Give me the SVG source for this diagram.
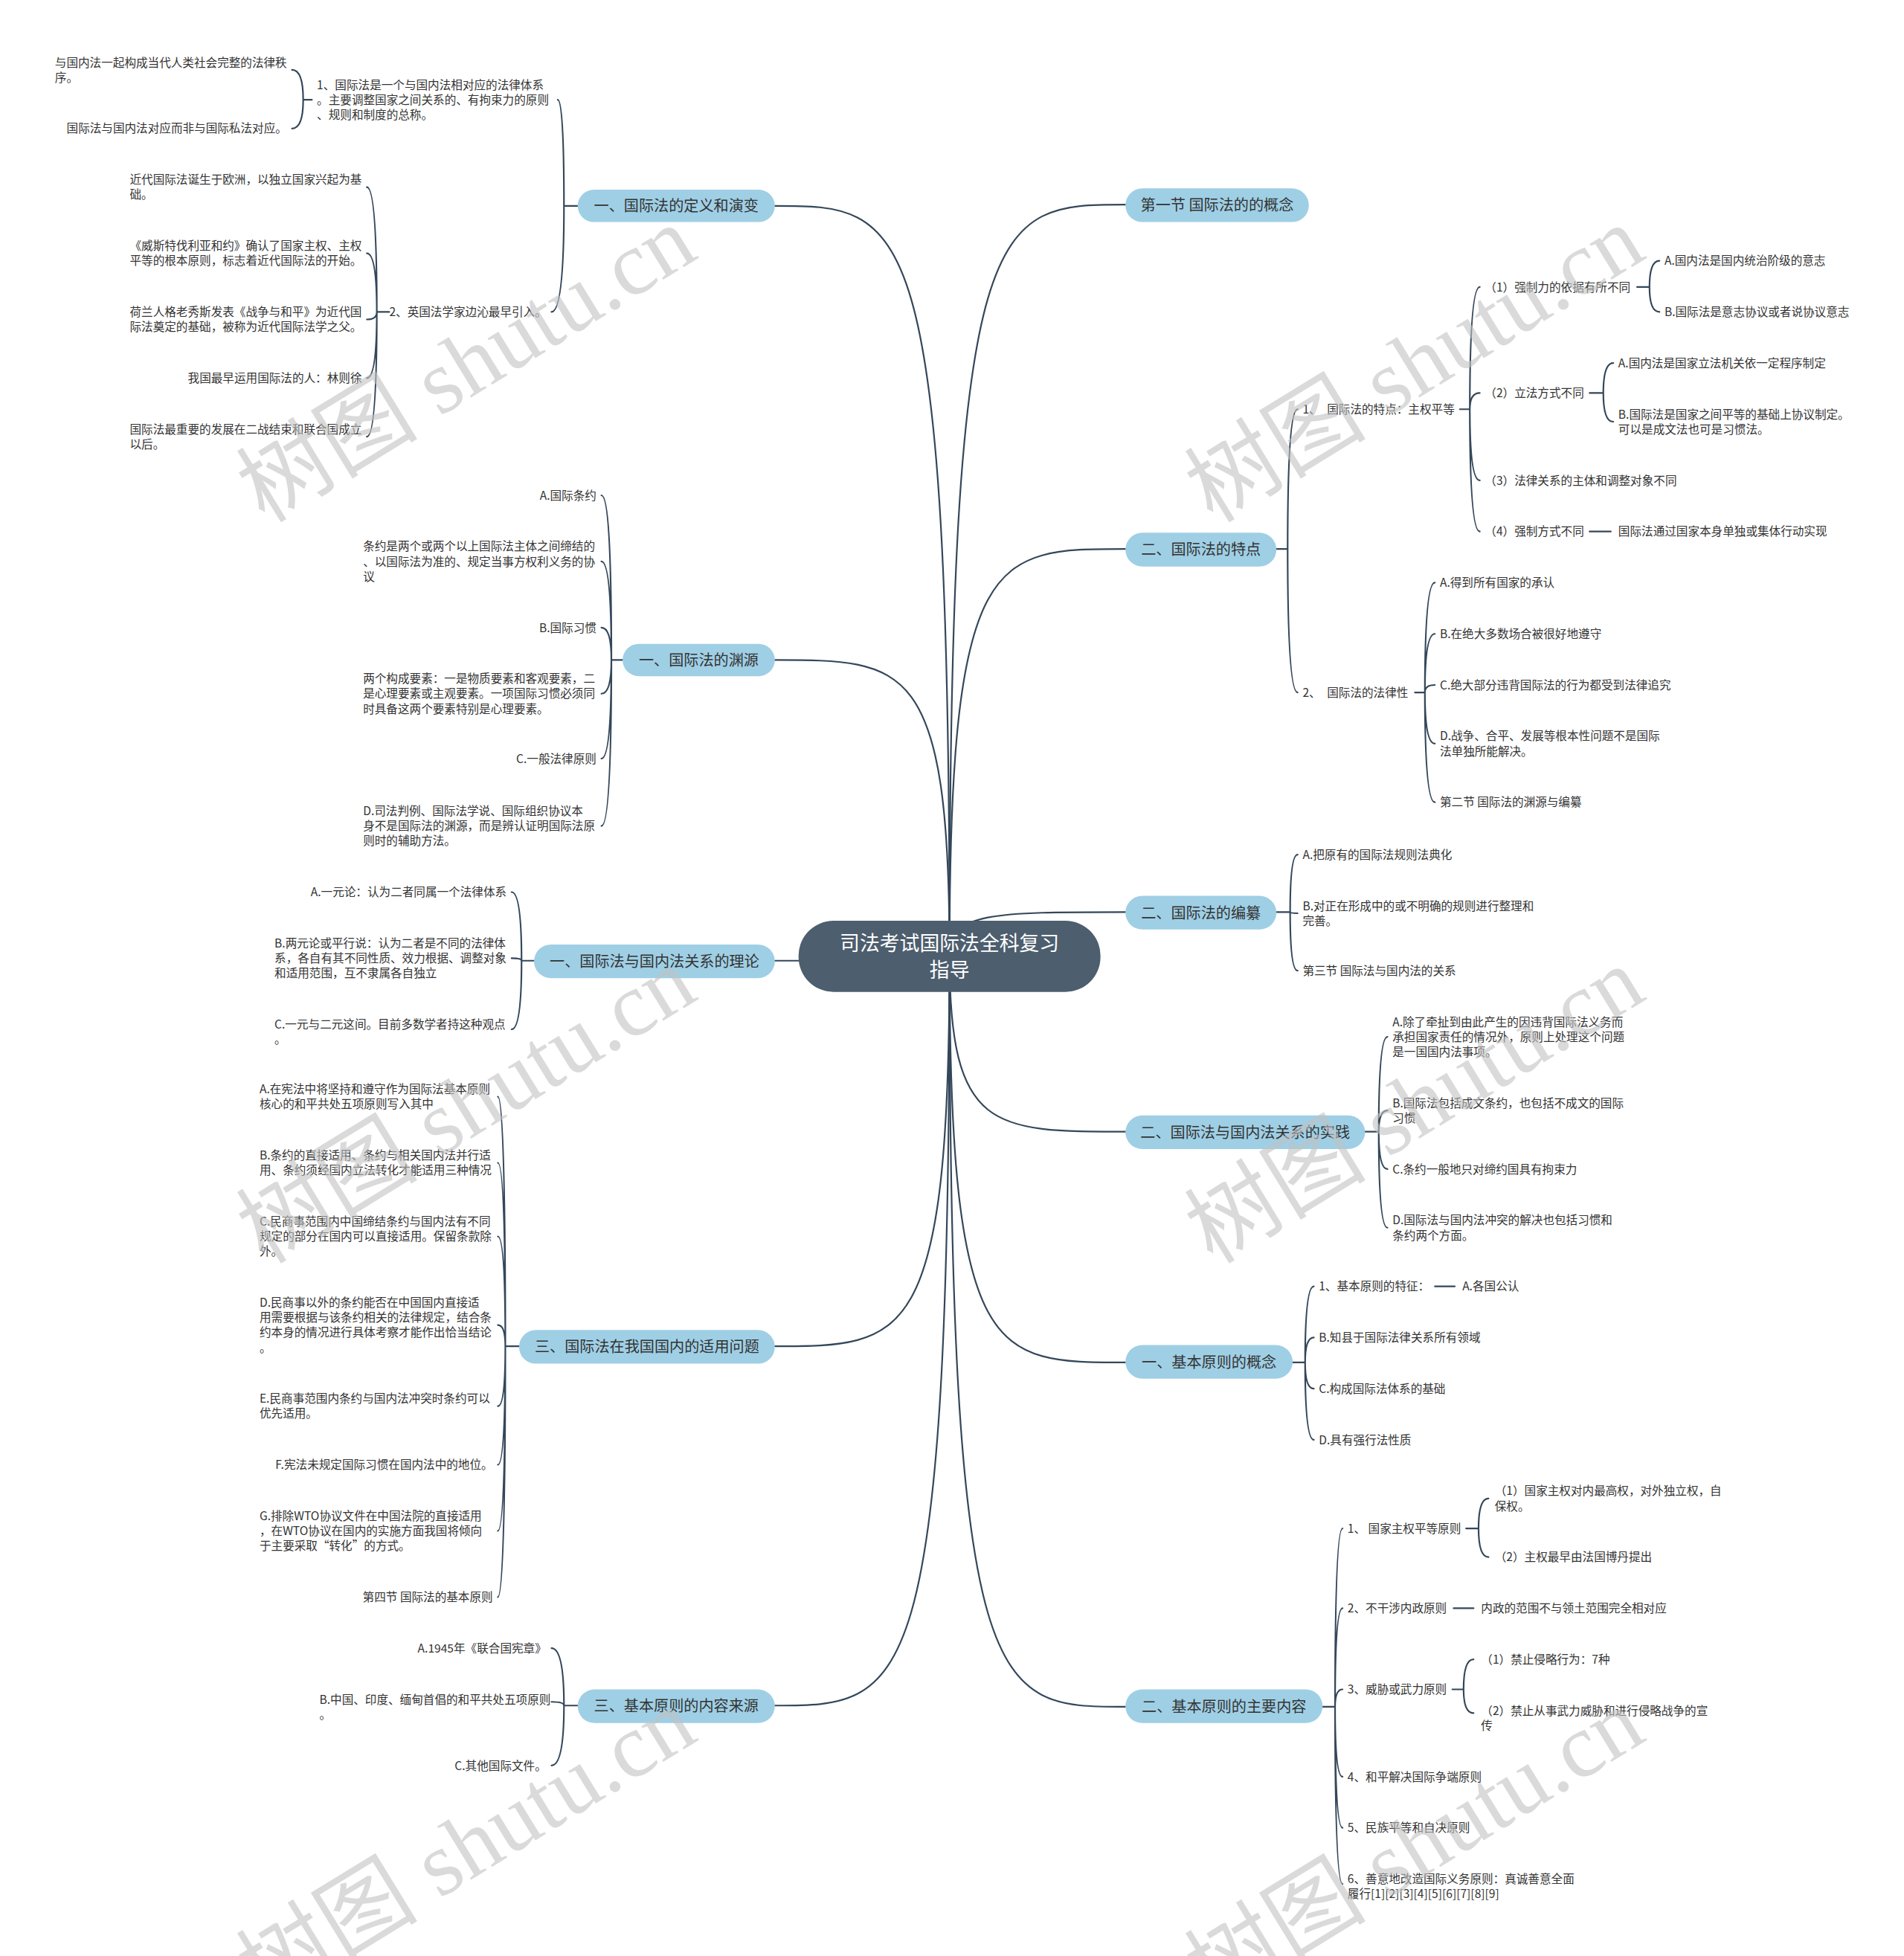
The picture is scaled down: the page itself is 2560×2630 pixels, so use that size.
<svg xmlns="http://www.w3.org/2000/svg" width="2560" height="2630" viewBox="0 0 2560 2630">
<style>
.t{font-family:"Noto Sans CJK SC","Noto Sans",sans-serif;font-size:9.3px;fill:#333}
.e{text-anchor:end}
.b{font-family:"Noto Sans CJK SC","Noto Sans",sans-serif;font-size:12px;fill:#333;text-anchor:middle}
.r{font-family:"Noto Sans CJK SC","Noto Sans",sans-serif;font-size:16px;fill:#fff;text-anchor:middle}
.pill{fill:#9fcfe5}
.ln{fill:none;stroke:#34475a;stroke-width:1.3;stroke-linecap:round}
.wm{font-size:73px;fill:#c2c2c2;fill-opacity:0.6}
</style>
<rect width="2560" height="2630" fill="#fff"/>
<g transform="scale(1.6776)">
<g id="connectors" class="ln">
<path d="M761 766 C761 165 726 165 621 165"/>
<path d="M761 766 C761 529 726 529 621 529"/>
<path d="M761 770 L621 770"/>
<path d="M761 766 C761 1079 726 1079 621 1079"/>
<path d="M761 766 C761 1367 726 1367 621 1367"/>
<path d="M761 766 C761 164 796 164 902 164"/>
<path d="M761 766 C761 440 796 440 902 440"/>
<path d="M761 766 C761 731 796 731 902 731"/>
<path d="M761 766 C761 907 796 907 902 907"/>
<path d="M761 766 C761 1092 796 1092 902 1092"/>
<path d="M761 766 C761 1368 796 1368 902 1368"/>
<path d="M463 165 L452 165 Q452 80 447 80 M452 165 Q452 250 442 250"/>
<path d="M250 80 L243 80 Q243 56 234 56 M243 80 Q243 103 234 103"/>
<path d="M312 250 L302 250 Q302 150 294 150 M302 250 Q302 203 294 203 M302 250 Q302 256 294 256 M302 250 Q302 303 294 303 M302 250 Q302 350 294 350"/>
<path d="M499 529 L490 529 Q490 397 482 397 M490 529 Q490 450 482 450 M490 529 Q490 503 482 503 M490 529 Q490 556 482 556 M490 529 Q490 608 482 608 M490 529 Q490 662 482 662"/>
<path d="M428 770 L418 770 Q418 715 410 715 M418 770 Q418 768 410 768 M418 770 Q418 825 410 825"/>
<path d="M416 1079 L405 1079 Q405 879 399 879 M405 1079 Q405 932 399 932 M405 1079 Q405 991 399 991 M405 1079 Q405 1062 399 1062 M405 1079 Q405 1127 399 1127 M405 1079 Q405 1174 399 1174 M405 1079 Q405 1227 399 1227 M405 1079 Q405 1280 399 1280"/>
<path d="M463 1367 L452 1367 Q452 1321 442 1321 M452 1367 Q452 1364 442 1364 M452 1367 Q452 1415 442 1415"/>
<path d="M1023 440 L1032 440 Q1032 328 1040 328 M1032 440 Q1032 555 1040 555"/>
<path d="M1170 328 L1178 328 Q1178 230 1186 230 M1178 328 Q1178 315 1186 315 M1178 328 Q1178 385 1186 385 M1178 328 Q1178 426 1186 426"/>
<path d="M1312 230 L1322 230 Q1322 209 1330 209 M1322 230 Q1322 250 1330 250"/>
<path d="M1274 315 L1285 315 Q1285 291 1293 291 M1285 315 Q1285 338 1293 338"/>
<path d="M1274 426 L1291 426"/>
<path d="M1134 555 L1142 555 Q1142 467 1150 467 M1142 555 Q1142 508 1150 508 M1142 555 Q1142 549 1150 549 M1142 555 Q1142 596 1150 596 M1142 555 Q1142 643 1150 643"/>
<path d="M1023 731 L1034 731 Q1034 685 1040 685 M1034 731 Q1034 732 1040 732 M1034 731 Q1034 778 1040 778"/>
<path d="M1094 907 L1105 907 Q1105 831 1112 831 M1105 907 Q1105 890 1112 890 M1105 907 Q1105 937 1112 937 M1105 907 Q1105 984 1112 984"/>
<path d="M1036 1092 L1046 1092 Q1046 1031 1053 1031 M1046 1092 Q1046 1072 1053 1072 M1046 1092 Q1046 1113 1053 1113 M1046 1092 Q1046 1154 1053 1154"/>
<path d="M1150 1031 L1166 1031"/>
<path d="M1060 1368 L1070 1368 Q1070 1225 1076 1225 M1070 1368 Q1070 1289 1076 1289 M1070 1368 Q1070 1354 1076 1354 M1070 1368 Q1070 1424 1076 1424 M1070 1368 Q1070 1465 1076 1465 M1070 1368 Q1070 1510 1076 1510"/>
<path d="M1175 1225 L1185 1225 Q1185 1201 1193 1201 M1185 1225 Q1185 1248 1193 1248"/>
<path d="M1165 1289 L1181 1289"/>
<path d="M1164 1354 L1173 1354 Q1173 1330 1181 1330 M1173 1354 Q1173 1373 1181 1373"/>
</g>

<g id="root">
<rect x="640" y="738" width="242" height="57" rx="28" fill="#4d5e6e"/>
<text class="r" x="761" y="762">司法考试国际法全科复习</text>
<text class="r" x="761" y="783">指导</text>
</g>

<g id="n-l1">
<rect class="pill" x="463" y="152" width="158" height="26" rx="13"/>
<text class="b" x="542" y="169.4">一、国际法的定义和演变</text>
</g>
<g id="n-l1-1"><text class="t" x="254" y="71.4"><tspan x="254">1、国际法是一个与国内法相对应的法律体系</tspan><tspan x="254" dy="12">。主要调整国家之间关系的、有拘束力的原则</tspan><tspan x="254" dy="12">、规则和制度的总称。</tspan></text></g>
<g id="n-l1-1-1"><text class="t" x="44" y="53.4"><tspan x="44">与国内法一起构成当代人类社会完整的法律秩</tspan><tspan x="44" dy="12">序。</tspan></text></g>
<g id="n-l1-1-2"><text class="t e" x="230" y="106.4">国际法与国内法对应而非与国际私法对应。</text></g>
<g id="n-l1-2"><text class="t e" x="438" y="253.4">2、英国法学家边沁最早引入。</text></g>
<g id="n-l1-2-1"><text class="t" x="104" y="147.4"><tspan x="104">近代国际法诞生于欧洲，以独立国家兴起为基</tspan><tspan x="104" dy="12">础。</tspan></text></g>
<g id="n-l1-2-2"><text class="t" x="104" y="200.4"><tspan x="104">《威斯特伐利亚和约》确认了国家主权、主权</tspan><tspan x="104" dy="12">平等的根本原则，标志着近代国际法的开始。</tspan></text></g>
<g id="n-l1-2-3"><text class="t" x="104" y="253.4"><tspan x="104">荷兰人格老秀斯发表《战争与和平》为近代国</tspan><tspan x="104" dy="12">际法奠定的基础，被称为近代国际法学之父。</tspan></text></g>
<g id="n-l1-2-4"><text class="t e" x="290" y="306.4">我国最早运用国际法的人：林则徐</text></g>
<g id="n-l1-2-5"><text class="t" x="104" y="347.4"><tspan x="104">国际法最重要的发展在二战结束和联合国成立</tspan><tspan x="104" dy="12">以后。</tspan></text></g>

<g id="n-l2">
<rect class="pill" x="499" y="516" width="122" height="26" rx="13"/>
<text class="b" x="560" y="533.4">一、国际法的渊源</text>
</g>
<g id="n-l2-1"><text class="t e" x="478" y="400.4">A.国际条约</text></g>
<g id="n-l2-2"><text class="t" x="291" y="441.4"><tspan x="291">条约是两个或两个以上国际法主体之间缔结的</tspan><tspan x="291" dy="12">、以国际法为准的、规定当事方权利义务的协</tspan><tspan x="291" dy="12">议</tspan></text></g>
<g id="n-l2-3"><text class="t e" x="478" y="506.4">B.国际习惯</text></g>
<g id="n-l2-4"><text class="t" x="291" y="547.4"><tspan x="291">两个构成要素：一是物质要素和客观要素，二</tspan><tspan x="291" dy="12">是心理要素或主观要素。一项国际习惯必须同</tspan><tspan x="291" dy="12">时具备这两个要素特别是心理要素。</tspan></text></g>
<g id="n-l2-5"><text class="t e" x="478" y="611.4">C.一般法律原则</text></g>
<g id="n-l2-6"><text class="t" x="291" y="653.4"><tspan x="291">D.司法判例、国际法学说、国际组织协议本</tspan><tspan x="291" dy="12">身不是国际法的渊源，而是辨认证明国际法原</tspan><tspan x="291" dy="12">则时的辅助方法。</tspan></text></g>

<g id="n-l3">
<rect class="pill" x="428" y="757" width="193" height="27" rx="13.5"/>
<text class="b" x="524.5" y="774.9">一、国际法与国内法关系的理论</text>
</g>
<g id="n-l3-1"><text class="t e" x="406" y="718.4">A.一元论：认为二者同属一个法律体系</text></g>
<g id="n-l3-2"><text class="t" x="220" y="759.4"><tspan x="220">B.两元论或平行说：认为二者是不同的法律体</tspan><tspan x="220" dy="12">系，各自有其不同性质、效力根据、调整对象</tspan><tspan x="220" dy="12">和适用范围，互不隶属各自独立</tspan></text></g>
<g id="n-l3-3"><text class="t" x="220" y="824.4"><tspan x="220">C.一元与二元这间。目前多数学者持这种观点</tspan><tspan x="220" dy="12">。</tspan></text></g>

<g id="n-l4">
<rect class="pill" x="416" y="1066" width="205" height="27" rx="13.5"/>
<text class="b" x="518.5" y="1083.9">三、国际法在我国国内的适用问题</text>
</g>
<g id="n-l4-1"><text class="t" x="208" y="876.4"><tspan x="208">A.在宪法中将坚持和遵守作为国际法基本原则</tspan><tspan x="208" dy="12">核心的和平共处五项原则写入其中</tspan></text></g>
<g id="n-l4-2"><text class="t" x="208" y="929.4"><tspan x="208">B.条约的直接适用、条约与相关国内法并行适</tspan><tspan x="208" dy="12">用、条约须经国内立法转化才能适用三种情况</tspan></text></g>
<g id="n-l4-3"><text class="t" x="208" y="982.4"><tspan x="208">C.民商事范围内中国缔结条约与国内法有不同</tspan><tspan x="208" dy="12">规定的部分在国内可以直接适用。保留条款除</tspan><tspan x="208" dy="12">外。</tspan></text></g>
<g id="n-l4-4"><text class="t" x="208" y="1047.4"><tspan x="208">D.民商事以外的条约能否在中国国内直接适</tspan><tspan x="208" dy="12">用需要根据与该条约相关的法律规定，结合条</tspan><tspan x="208" dy="12">约本身的情况进行具体考察才能作出恰当结论</tspan><tspan x="208" dy="12">。</tspan></text></g>
<g id="n-l4-5"><text class="t" x="208" y="1124.4"><tspan x="208">E.民商事范围内条约与国内法冲突时条约可以</tspan><tspan x="208" dy="12">优先适用。</tspan></text></g>
<g id="n-l4-6"><text class="t e" x="395" y="1177.4">F.宪法未规定国际习惯在国内法中的地位。</text></g>
<g id="n-l4-7"><text class="t" x="208" y="1218.4"><tspan x="208">G.排除WTO协议文件在中国法院的直接适用</tspan><tspan x="208" dy="12">，在WTO协议在国内的实施方面我国将倾向</tspan><tspan x="208" dy="12">于主要采取“转化”的方式。</tspan></text></g>
<g id="n-l4-8"><text class="t e" x="395" y="1283.4">第四节 国际法的基本原则</text></g>

<g id="n-l5">
<rect class="pill" x="463" y="1354" width="158" height="27" rx="13.5"/>
<text class="b" x="542" y="1371.9">三、基本原则的内容来源</text>
</g>
<g id="n-l5-1"><text class="t e" x="438" y="1324.4">A.1945年《联合国宪章》</text></g>
<g id="n-l5-2"><text class="t" x="256" y="1365.4"><tspan x="256">B.中国、印度、缅甸首倡的和平共处五项原则</tspan><tspan x="256" dy="12">。</tspan></text></g>
<g id="n-l5-3"><text class="t e" x="438" y="1418.4">C.其他国际文件。</text></g>

<g id="n-r1">
<rect class="pill" x="902" y="151" width="147" height="27" rx="13.5"/>
<text class="b" x="975.5" y="168.9">第一节 国际法的的概念</text>
</g>

<g id="n-r2">
<rect class="pill" x="902" y="427" width="121" height="27" rx="13.5"/>
<text class="b" x="962.5" y="444.9">二、国际法的特点</text>
</g>
<g id="n-r2-1"><text class="t" x="1044" y="331.4">1、 <tspan dx="3">国际法的特点：主权平等</tspan></text></g>
<g id="n-r2-1-1"><text class="t" x="1190" y="233.4">（1）强制力的依据有所不同</text></g>
<g id="n-r2-1-1-1"><text class="t" x="1334" y="212.4">A.国内法是国内统治阶级的意志</text></g>
<g id="n-r2-1-1-2"><text class="t" x="1334" y="253.4">B.国际法是意志协议或者说协议意志</text></g>
<g id="n-r2-1-2"><text class="t" x="1190" y="318.4">（2）立法方式不同</text></g>
<g id="n-r2-1-2-1"><text class="t" x="1297" y="294.4">A.国内法是国家立法机关依一定程序制定</text></g>
<g id="n-r2-1-2-2"><text class="t" x="1297" y="335.4"><tspan x="1297">B.国际法是国家之间平等的基础上协议制定。</tspan><tspan x="1297" dy="12">可以是成文法也可是习惯法。</tspan></text></g>
<g id="n-r2-1-3"><text class="t" x="1190" y="388.4">（3）法律关系的主体和调整对象不同</text></g>
<g id="n-r2-1-4"><text class="t" x="1190" y="429.4">（4）强制方式不同</text></g>
<g id="n-r2-1-4-1"><text class="t" x="1297" y="429.4">国际法通过国家本身单独或集体行动实现</text></g>
<g id="n-r2-2"><text class="t" x="1044" y="558.4">2、 <tspan dx="3">国际法的法律性</tspan></text></g>
<g id="n-r2-2-1"><text class="t" x="1154" y="470.4">A.得到所有国家的承认</text></g>
<g id="n-r2-2-2"><text class="t" x="1154" y="511.4">B.在绝大多数场合被很好地遵守</text></g>
<g id="n-r2-2-3"><text class="t" x="1154" y="552.4">C.绝大部分违背国际法的行为都受到法律追究</text></g>
<g id="n-r2-2-4"><text class="t" x="1154" y="593.4"><tspan x="1154">D.战争、合平、发展等根本性问题不是国际</tspan><tspan x="1154" dy="12">法单独所能解决。</tspan></text></g>
<g id="n-r2-2-5"><text class="t" x="1154" y="646.4">第二节 国际法的渊源与编纂</text></g>

<g id="n-r3">
<rect class="pill" x="902" y="718" width="121" height="27" rx="13.5"/>
<text class="b" x="962.5" y="735.9">二、国际法的编纂</text>
</g>
<g id="n-r3-1"><text class="t" x="1044" y="688.4">A.把原有的国际法规则法典化</text></g>
<g id="n-r3-2"><text class="t" x="1044" y="729.4"><tspan x="1044">B.对正在形成中的或不明确的规则进行整理和</tspan><tspan x="1044" dy="12">完善。</tspan></text></g>
<g id="n-r3-3"><text class="t" x="1044" y="781.4">第三节 国际法与国内法的关系</text></g>

<g id="n-r4">
<rect class="pill" x="902" y="894" width="192" height="27" rx="13.5"/>
<text class="b" x="998" y="911.9">二、国际法与国内法关系的实践</text>
</g>
<g id="n-r4-1"><text class="t" x="1116" y="822.4"><tspan x="1116">A.除了牵扯到由此产生的因违背国际法义务而</tspan><tspan x="1116" dy="12">承担国家责任的情况外，原则上处理这个问题</tspan><tspan x="1116" dy="12">是一国国内法事项。</tspan></text></g>
<g id="n-r4-2"><text class="t" x="1116" y="887.4"><tspan x="1116">B.国际法包括成文条约，也包括不成文的国际</tspan><tspan x="1116" dy="12">习惯</tspan></text></g>
<g id="n-r4-3"><text class="t" x="1116" y="940.4">C.条约一般地只对缔约国具有拘束力</text></g>
<g id="n-r4-4"><text class="t" x="1116" y="981.4"><tspan x="1116">D.国际法与国内法冲突的解决也包括习惯和</tspan><tspan x="1116" dy="12">条约两个方面。</tspan></text></g>

<g id="n-r5">
<rect class="pill" x="902" y="1078" width="134" height="27" rx="13.5"/>
<text class="b" x="969" y="1096.4">一、基本原则的概念</text>
</g>
<g id="n-r5-1"><text class="t" x="1057" y="1034.4">1、基本原则的特征：</text></g>
<g id="n-r5-1-1"><text class="t" x="1172" y="1034.4">A.各国公认</text></g>
<g id="n-r5-2"><text class="t" x="1057" y="1075.4">B.知县于国际法律关系所有领域</text></g>
<g id="n-r5-3"><text class="t" x="1057" y="1116.4">C.构成国际法体系的基础</text></g>
<g id="n-r5-4"><text class="t" x="1057" y="1157.4">D.具有强行法性质</text></g>

<g id="n-r6">
<rect class="pill" x="902" y="1354" width="158" height="27" rx="13.5"/>
<text class="b" x="981" y="1372.4">二、基本原则的主要内容</text>
</g>
<g id="n-r6-1"><text class="t" x="1080" y="1228.4">1、 国家主权平等原则</text></g>
<g id="n-r6-1-1"><text class="t" x="1198" y="1198.4"><tspan x="1198">（1）国家主权对内最高权，对外独立权，自</tspan><tspan x="1198" dy="12">保权。</tspan></text></g>
<g id="n-r6-1-2"><text class="t" x="1198" y="1251.4">（2）主权最早由法国博丹提出</text></g>
<g id="n-r6-2"><text class="t" x="1080" y="1292.4">2、不干涉内政原则</text></g>
<g id="n-r6-2-1"><text class="t" x="1187" y="1292.4">内政的范围不与领土范围完全相对应</text></g>
<g id="n-r6-3"><text class="t" x="1080" y="1357.4">3、威胁或武力原则</text></g>
<g id="n-r6-3-1"><text class="t" x="1187" y="1333.4">（1）禁止侵略行为：7种</text></g>
<g id="n-r6-3-2"><text class="t" x="1187" y="1374.4"><tspan x="1187">（2）禁止从事武力威胁和进行侵略战争的宣</tspan><tspan x="1187" dy="12">传</tspan></text></g>
<g id="n-r6-4"><text class="t" x="1080" y="1427.4">4、和平解决国际争端原则</text></g>
<g id="n-r6-5"><text class="t" x="1080" y="1468.4">5、民族平等和自决原则</text></g>
<g id="n-r6-6"><text class="t" x="1080" y="1509.4"><tspan x="1080">6、善意地改造国际义务原则：真诚善意全面</tspan><tspan x="1080" dy="12">履行[1][2][3][4][5][6][7][8][9]</tspan></text></g>

<g id="watermark" class="wm">
<text transform="translate(212,420) rotate(-31.5)"><tspan font-family="Noto Sans CJK SC">树图</tspan><tspan font-family="Liberation Serif"> shutu.cn</tspan></text>
<text transform="translate(972,420) rotate(-31.5)"><tspan font-family="Noto Sans CJK SC">树图</tspan><tspan font-family="Liberation Serif"> shutu.cn</tspan></text>
<text transform="translate(212,1014) rotate(-31.5)"><tspan font-family="Noto Sans CJK SC">树图</tspan><tspan font-family="Liberation Serif"> shutu.cn</tspan></text>
<text transform="translate(972,1014) rotate(-31.5)"><tspan font-family="Noto Sans CJK SC">树图</tspan><tspan font-family="Liberation Serif"> shutu.cn</tspan></text>
<text transform="translate(212,1608) rotate(-31.5)"><tspan font-family="Noto Sans CJK SC">树图</tspan><tspan font-family="Liberation Serif"> shutu.cn</tspan></text>
<text transform="translate(972,1608) rotate(-31.5)"><tspan font-family="Noto Sans CJK SC">树图</tspan><tspan font-family="Liberation Serif"> shutu.cn</tspan></text>
</g>
</g>
</svg>
